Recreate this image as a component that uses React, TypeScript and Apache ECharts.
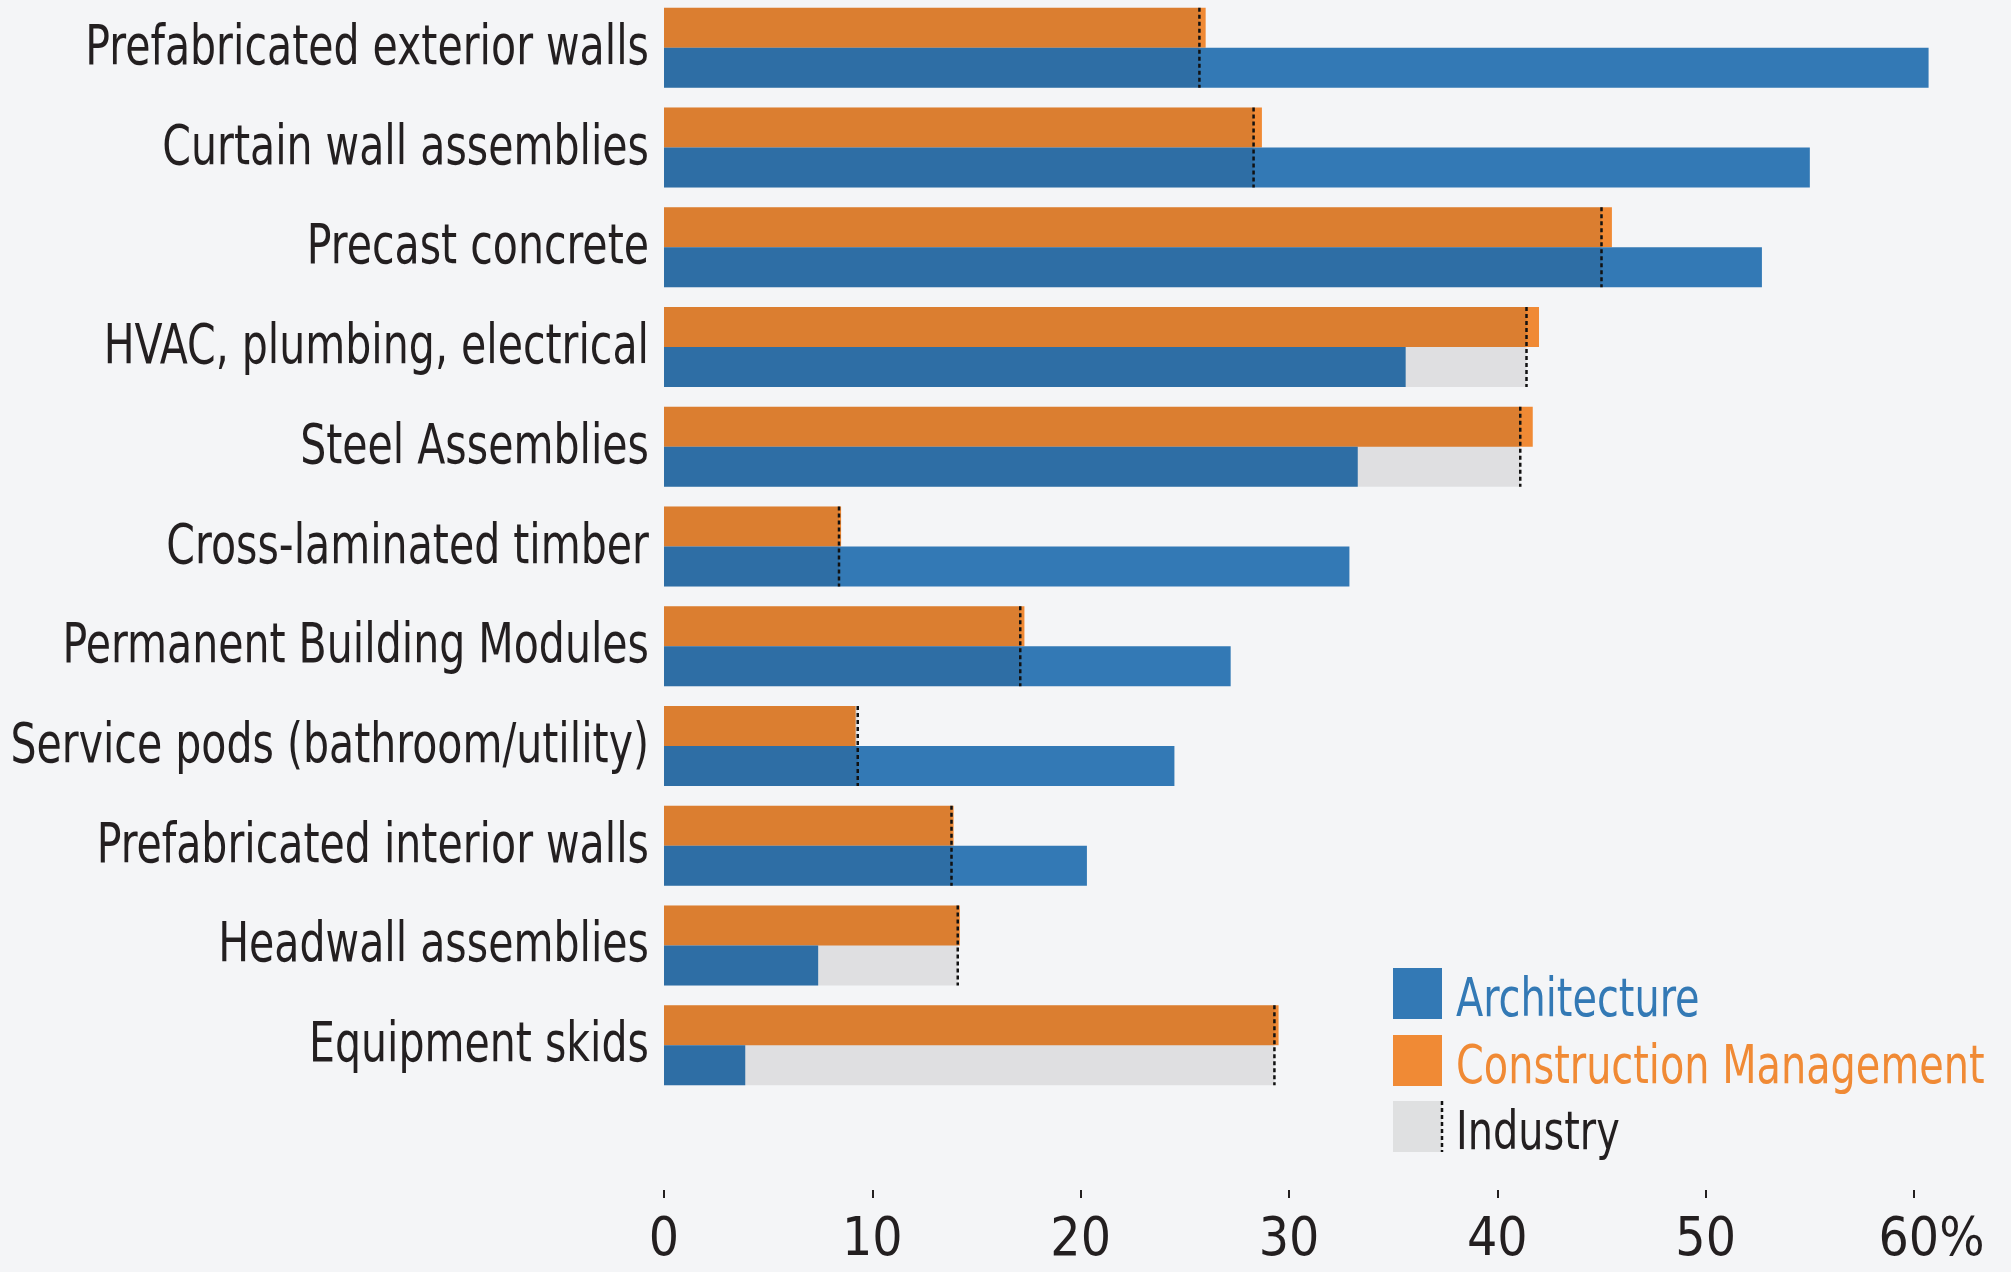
import React, { useEffect, useRef } from "react";
import * as echarts from "echarts";

const categories = [
  "Prefabricated exterior walls",
  "Curtain wall assemblies",
  "Precast concrete",
  "HVAC, plumbing, electrical",
  "Steel Assemblies",
  "Cross-laminated timber",
  "Permanent Building Modules",
  "Service pods (bathroom/utility)",
  "Prefabricated interior walls",
  "Headwall assemblies",
  "Equipment skids",
];
const architecture = [60.7, 55.0, 52.7, 35.6, 33.3, 32.9, 27.2, 24.5, 20.3, 7.4, 3.9];
const constructionMgmt = [26.0, 28.7, 45.5, 42.0, 41.7, 8.5, 17.3, 9.2, 13.9, 14.2, 29.5];
const industry = [25.7, 28.3, 45.0, 41.4, 41.1, 8.4, 17.1, 9.3, 13.8, 14.1, 29.3];
const xTicks = [0, 10, 20, 30, 40, 50, 60];
const legendNames = ["Architecture", "Construction Management", "Industry"];

const FONT = "'DejaVu Sans Condensed', 'DejaVu Sans', sans-serif";
const BLUE = "#3379b5";
const ORANGE = "#f08a35";
const GREY = "#dfe0e1";
const BG = "#f4f5f7";
const INK = "#231f20";
const BAR_H = 40;
const SQUEEZE = 0.83;

export default function App() {
  const ref = useRef<HTMLDivElement>(null);
  useEffect(() => {
    document.body.style.margin = "0";
    const chart = echarts.init(ref.current!, null, { renderer: "svg" });
    const legendX = 1393;
    const legendY = [968, 1035, 1101];
    const legendColors = [BLUE, ORANGE, GREY];
    const legendText = [BLUE, ORANGE, INK];
    const graphics: any[] = [];
    legendNames.forEach((name, i) => {
      graphics.push({
        type: "rect",
        shape: { x: legendX, y: legendY[i], width: 49, height: 51 },
        style: { fill: legendColors[i] },
      });
      graphics.push({
        type: "text",
        x: 1456,
        y: legendY[i] + 29,
        scaleX: 0.82,
        style: {
          text: name,
          x: 0,
          y: 0,
          fill: legendText[i],
          font: `54px ${FONT}`,
          verticalAlign: "middle",
          align: "left",
        },
      });
    });
    graphics.push({
      type: "line",
      shape: { x1: legendX + 49, y1: legendY[2], x2: legendX + 49, y2: legendY[2] + 51 },
      style: { stroke: "#111", lineWidth: 2.5, lineDash: [4, 3] },
    });

    chart.setOption({
      animation: false,
      backgroundColor: BG,
      grid: {
        left: 664,
        right: 97,
        top: -2,
        bottom: 177,
        containLabel: false,
        outerBoundsMode: "none",
      },
      xAxis: {
        type: "value",
        min: xTicks[0],
        max: xTicks[xTicks.length - 1],
        interval: 10,
        position: "bottom",
        offset: 95,
        axisLine: { show: false },
        axisTick: { show: true, length: 8, lineStyle: { color: INK, width: 2 } },
        splitLine: { show: false },
        axisLabel: {
          fontFamily: FONT,
          fontSize: 53,
          color: INK,
          margin: 20,
          formatter: (v: number) => (v === 60 ? "{pad| }60%" : String(v)),
          rich: { pad: { width: 35, fontFamily: FONT, fontSize: 53 } },
        },
      },
      yAxis: {
        type: "category",
        data: categories,
        inverse: true,
        axisLine: { show: false },
        axisTick: { show: false },
        axisLabel: { show: false },
      },
      series: [
        {
          name: "Construction Management",
          type: "bar",
          data: constructionMgmt,
          barWidth: BAR_H,
          barGap: "0%",
          itemStyle: { color: ORANGE },
          clip: false,
        },
        {
          name: "Architecture",
          type: "bar",
          data: architecture,
          barWidth: BAR_H,
          barGap: "0%",
          itemStyle: { color: BLUE },
          clip: false,
        },
        {
          name: "Industry",
          type: "custom",
          data: industry.map((v, i) => [v, i]),
          encode: { x: 0, y: 1 },
          z: 5,
          silent: true,
          renderItem: (params: any, api: any) => {
            const idx = api.value(1);
            const v = api.value(0);
            const start = api.coord([0, idx]);
            const end = api.coord([v, idx]);
            const h = BAR_H * 2;
            return {
              type: "group",
              children: [
                {
                  type: "rect",
                  shape: { x: start[0], y: start[1] - h / 2, width: end[0] - start[0], height: h },
                  style: { fill: "rgba(0,0,0,0.088)" },
                },
                {
                  type: "line",
                  shape: { x1: end[0], y1: start[1] - h / 2, x2: end[0], y2: start[1] + h / 2 },
                  style: { stroke: "#111", lineWidth: 2.5, lineDash: [4, 3] },
                },
              ],
            };
          },
        },
        {
          name: "Category labels",
          type: "custom",
          data: categories.map((c, i) => [0, i]),
          encode: { x: 0, y: 1 },
          z: 6,
          silent: true,
          clip: false,
          renderItem: (params: any, api: any) => {
            const idx = api.value(1);
            const p = api.coord([0, idx]);
            return {
              type: "text",
              x: p[0] - 15,
              y: p[1] - 3,
              scaleX: SQUEEZE,
              style: {
                text: categories[idx],
                x: 0,
                y: 0,
                align: "right",
                verticalAlign: "middle",
                font: `55px ${FONT}`,
                fill: INK,
              },
            };
          },
        },
      ],
      graphic: graphics,
    });
    return () => chart.dispose();
  }, []);
  return (
    <div
      ref={ref}
      style={{ position: "fixed", left: 0, top: 0, width: 2011, height: 1272 }}
    />
  );
}
